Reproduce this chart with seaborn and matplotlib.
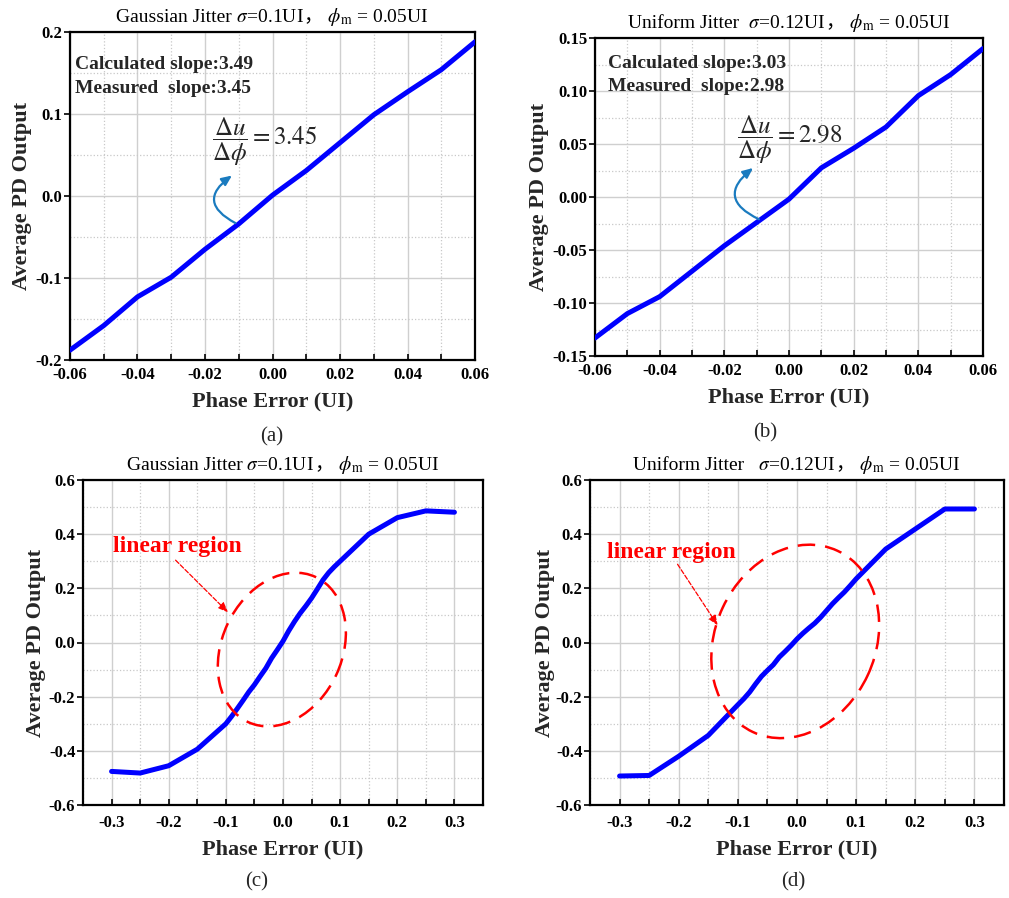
import matplotlib
matplotlib.use('Agg')
import matplotlib.pyplot as plt
import seaborn as sns
from matplotlib.patches import Ellipse
from matplotlib.transforms import ScaledTranslation
from matplotlib.ticker import MultipleLocator, FormatStrFormatter
from matplotlib.offsetbox import TextArea, HPacker, AnchoredOffsetbox

# ---- data ----
# top row: small phase error range
phase_small = [-0.06, -0.05, -0.04, -0.03, -0.02, -0.01, 0.0,
               0.01, 0.02, 0.03, 0.04, 0.05, 0.06]
gauss_small = [-0.188, -0.158, -0.123, -0.099, -0.065, -0.034, 0.001,
               0.031, 0.065, 0.099, 0.127, 0.154, 0.188]
uniform_small = [-0.133, -0.110, -0.094, -0.070, -0.046, -0.024, -0.002,
                 0.0275, 0.046, 0.066, 0.0956, 0.1155, 0.140]

# bottom row: full phase error range
phase_full = [-0.3, -0.25, -0.2, -0.15,
              -0.1, -0.09, -0.08, -0.07, -0.06, -0.05, -0.04, -0.03, -0.02, -0.01, 0.0,
              0.01, 0.02, 0.03, 0.04, 0.05, 0.06, 0.07, 0.08, 0.09, 0.1,
              0.15, 0.2, 0.25, 0.3]
gauss_full = [-0.476, -0.482, -0.455, -0.394,
              -0.300, -0.273, -0.244, -0.214, -0.183, -0.156, -0.125, -0.095, -0.058, -0.027, 0.005,
              0.043, 0.077, 0.108, 0.135, 0.164, 0.197, 0.231, 0.258, 0.280, 0.300,
              0.400, 0.461, 0.486, 0.481]
uniform_full = [-0.493, -0.491, -0.420, -0.343,
                -0.230, -0.208, -0.183, -0.153, -0.125, -0.103, -0.082, -0.054, -0.033, -0.011, 0.013,
                0.034, 0.053, 0.071, 0.093, 0.118, 0.143, 0.165, 0.186, 0.210, 0.235,
                0.345, 0.419, 0.493, 0.493]

SERIF = ['Liberation Serif', 'DejaVu Serif']
CJK = ['Noto Sans CJK SC', 'DejaVu Sans']

# title pieces (text, font family)
title_gauss = [("Gaussian Jitter", SERIF), (r" $\sigma$=0.1UI", SERIF), ("，", CJK),
               (r" $\phi_\mathrm{m}$ = 0.05UI", SERIF)]
title_unif = [("Uniform Jitter", SERIF), (r"  $\sigma$=0.12UI", SERIF), ("，", CJK),
              (r" $\phi_\mathrm{m}$ = 0.05UI", SERIF)]
title_unif2 = [("Uniform Jitter", SERIF), (r"   $\sigma$=0.12UI", SERIF), ("，", CJK),
               (r" $\phi_\mathrm{m}$ = 0.05UI", SERIF)]

sns.set_theme(style="ticks")
plt.rcParams['font.family'] = ['Liberation Serif', 'Noto Sans CJK SC']
plt.rcParams['mathtext.fontset'] = 'stix'
plt.rcParams['axes.unicode_minus'] = False

W, H = 1009, 898
fig = plt.figure(figsize=(W / 100, H / 100), dpi=100)


def px_axes(left, top, right, bottom):
    return fig.add_axes([left / W, 1 - bottom / H, (right - left) / W, (bottom - top) / H])


def add_title(ax, parts):
    boxes = [TextArea(t, textprops=dict(fontsize=14, fontweight='normal', family=fam, color='black'))
             for t, fam in parts]
    pack = HPacker(children=boxes, align='baseline', pad=0, sep=0)
    box = AnchoredOffsetbox(loc='lower center', child=pack, pad=0, borderpad=0.25,
                            frameon=False, bbox_to_anchor=(0.5, 1.0),
                            bbox_transform=ax.transAxes)
    ax.add_artist(box)


def style_panel(ax, x, y, title, xlim, ylim, xstep, ystep, xfmt, yfmt, ylab_x, tick_pad):
    sns.lineplot(x=x, y=y, ax=ax, color='#0000ff', lw=3.6, zorder=3)
    ax.set_xlim(xlim)
    ax.set_ylim(ylim)
    ax.xaxis.set_major_locator(MultipleLocator(xstep))
    ax.xaxis.set_minor_locator(MultipleLocator(xstep / 2))
    ax.yaxis.set_major_locator(MultipleLocator(ystep))
    ax.yaxis.set_minor_locator(MultipleLocator(ystep / 2))
    ax.xaxis.set_major_formatter(FormatStrFormatter(xfmt))
    ax.yaxis.set_major_formatter(FormatStrFormatter(yfmt))
    ax.grid(which='major', color='#cfcfcf', lw=1.0)
    ax.grid(which='minor', color='#c8c8c8', lw=0.9, ls=':')
    ax.set_axisbelow(True)
    ax.tick_params(axis='x', which='both', direction='in', length=4, width=1.2,
                   labelsize=12, pad=tick_pad, colors='black')
    ax.tick_params(axis='y', which='major', direction='out', length=4, width=1.2,
                   labelsize=12, pad=1.5, colors='black')
    ax.tick_params(axis='y', which='minor', length=0)
    for s in ax.spines.values():
        s.set_linewidth(1.6)
        s.set_color('black')
    add_title(ax, title)
    ax.set_xlabel('Phase Error (UI)', fontsize=16, fontweight='bold', labelpad=6)
    ax.set_ylabel('Average PD Output', fontsize=16, fontweight='bold')
    ax.yaxis.set_label_coords(ylab_x, 0.5)
    plt.setp(ax.get_xticklabels() + ax.get_yticklabels(), fontweight='bold')


ax_a = px_axes(70, 32, 475, 360)
ax_b = px_axes(595, 38, 983, 356)
ax_c = px_axes(83, 480, 483, 805)
ax_d = px_axes(590, 480, 1004, 805)

style_panel(ax_a, phase_small, gauss_small, title_gauss, (-0.06, 0.06), (-0.2, 0.2),
            0.02, 0.1, '%.2f', '%.1f', -0.093, 5)
style_panel(ax_b, phase_small, uniform_small, title_unif, (-0.06, 0.06), (-0.15, 0.15),
            0.02, 0.05, '%.2f', '%.2f', -0.118, 5)
style_panel(ax_c, phase_full, gauss_full, title_gauss, (-0.35, 0.35), (-0.6, 0.6),
            0.1, 0.2, '%.1f', '%.1f', -0.0925, 7)
style_panel(ax_d, phase_full, uniform_full, title_unif2, (-0.35, 0.35), (-0.6, 0.6),
            0.1, 0.2, '%.1f', '%.1f', -0.085, 7)

# slope annotations on the top row
for ax, calc, meas, fx, fy1, fy2, frac_xy, arrow in [
        (ax_a, '3.49', '3.45', 0.012, 0.902, 0.829, (0.481, 0.665),
         ((-0.011, -0.033), (-0.012, 0.025))),
        (ax_b, '3.03', '2.98', 0.034, 0.921, 0.846, (0.503, 0.679),
         ((-0.0093, -0.021), (-0.0111, 0.0274)))]:
    ax.text(fx, fy1, 'Calculated slope:' + calc, transform=ax.transAxes,
            fontsize=14, fontweight='bold', va='center', ha='left')
    ax.text(fx, fy2, 'Measured  slope:' + meas, transform=ax.transAxes,
            fontsize=14, fontweight='bold', va='center', ha='left')
    ax.text(frac_xy[0], frac_xy[1], r'$\dfrac{\Delta u}{\Delta \phi} = %s$' % meas,
            transform=ax.transAxes, fontsize=18, fontweight='normal', ha='center', va='center')
    ax.annotate('', xy=arrow[1], xytext=arrow[0],
                arrowprops=dict(arrowstyle='-|>,head_length=0.5,head_width=0.22',
                                color='#1a7bbf', lw=1.6, shrinkA=0, shrinkB=0,
                                connectionstyle='arc3,rad=-0.8'))

# linear region marks on the bottom row
for ax, center, w, h, txt_xy, start, end in [
        (ax_c, (-0.002, -0.026), 1.6, 1.2, (-0.184, 0.356), (-0.188, 0.304), (-0.096, 0.111)),
        (ax_d, (-0.003, 0.004), 2.0, 1.6, (-0.212, 0.333), (-0.202, 0.289), (-0.134, 0.063))]:
    trans = fig.dpi_scale_trans + ScaledTranslation(center[0], center[1], ax.transData)
    ax.add_patch(Ellipse((0, 0), w, h, angle=65, transform=trans, fill=False,
                         ec='red', lw=1.8, ls=(0, (7, 4)), zorder=4))
    ax.text(txt_xy[0], txt_xy[1], 'linear region', color='red', fontsize=17,
            fontweight='bold', ha='center', va='center')
    ax.annotate('', xy=end, xytext=start,
                arrowprops=dict(arrowstyle='-|>,head_length=0.5,head_width=0.2',
                                color='red', lw=0.9, ls='--', shrinkA=0, shrinkB=0))

# sub figure labels
for lbl, x, y in [('(a)', 272, 437), ('(b)', 765, 433), ('(c)', 257, 882), ('(d)', 793, 882)]:
    fig.text(x / W, 1 - y / H, lbl, fontsize=15, fontweight='normal',
             ha='center', va='center')

fig.savefig('out.png', dpi=100)
